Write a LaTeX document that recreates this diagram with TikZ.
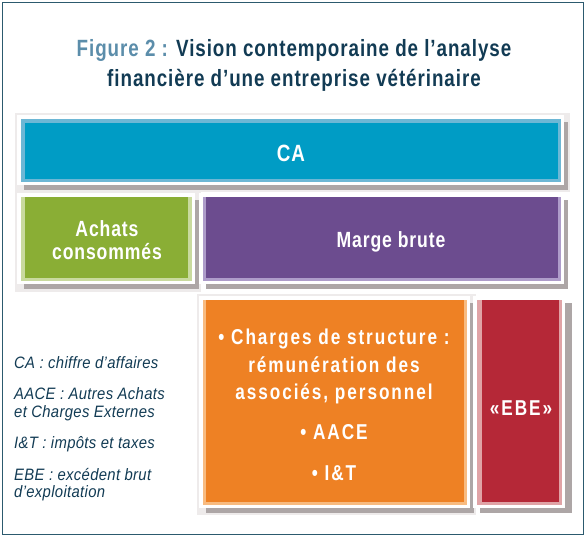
\documentclass[tikz,border=0pt]{standalone}
\usepackage{fontspec}
\setmainfont{Liberation Sans}
\newfontfamily\condb{Liberation Sans}[FakeStretch=0.8,LetterSpace=4]
\newfontfamily\condo{Liberation Sans}[FakeStretch=0.8,LetterSpace=9]
\newfontfamily\legi{Liberation Sans}[FakeStretch=0.9,LetterSpace=2]
\definecolor{framecol}{HTML}{2C5A6E}
\definecolor{figblue}{HTML}{5B8DAA}
\definecolor{navy}{HTML}{123B54}
\definecolor{shadowgrey}{HTML}{ADA6A6}
\definecolor{fuzz}{HTML}{EEEBEB}
\definecolor{cadark}{HTML}{009CC5}
\definecolor{calight}{HTML}{6DB7D5}
\definecolor{grdark}{HTML}{8AAE35}
\definecolor{grlight}{HTML}{C9DA9E}
\definecolor{pudark}{HTML}{6C4C8F}
\definecolor{pulight}{HTML}{AE9CCA}
\definecolor{ordark}{HTML}{EE8124}
\definecolor{orlight}{HTML}{F8BB80}
\definecolor{rddark}{HTML}{B52837}
\definecolor{rdlight}{HTML}{E0A3A6}
\tikzset{
  boxtxt/.style={inner sep=0pt, anchor=base, text=white, font=\condb\bfseries\fontsize{22}{26}\selectfont},
  ortxt/.style={inner sep=0pt, anchor=base, text=white, font=\condo\bfseries\fontsize{21.5}{25}\selectfont},
  legtxt/.style={inner sep=0pt, anchor=base west, text=navy, font=\legi\itshape\fontsize{16.5}{19}\selectfont},
  titletxt/.style={inner sep=0pt, anchor=base, text=navy, font=\condb\bfseries\fontsize{23.5}{28}\selectfont}
}
\begin{document}
\begin{tikzpicture}[x=1pt,y=-1pt]
\useasboundingbox (0,0) rectangle (588,539);
\fill[white] (0,0) rectangle (588,539);
\draw[framecol, line width=1.6pt] (2.5,2.5) rectangle (583.5,534.5);
% title
\node[titletxt] (t1) at (294,56) {\textcolor{figblue}{Figure 2 :} Vision contemporaine de l’analyse};
\node[titletxt] (t2) at (294,86) {financière d’une entreprise vétérinaire};
% CA
\fill[fuzz] (15,113) rectangle (570,192);
\fill[shadowgrey] (24,122) rectangle (568,190);
\fill[white] (17,115) rectangle (564,185);
\fill[calight] (21,119) rectangle (561,182);
\fill[cadark] (24.5,122.5) rectangle (557.5,178.5);
% Achats
\fill[fuzz] (15,191) rectangle (201,292);
\fill[shadowgrey] (24,200) rectangle (199,289);
\fill[white] (17,193) rectangle (195,284);
\fill[grlight] (21,197) rectangle (192,281);
\fill[grdark] (24.5,197) rectangle (187.5,277.5);
% Marge
\fill[shadowgrey] (206,200) rectangle (568,289);
\fill[white] (199,193) rectangle (564,284);
\fill[pulight] (203,197) rectangle (561,281);
\fill[pudark] (206,197) rectangle (557.5,277.5);
% Orange
\fill[fuzz] (197,294) rectangle (476,515);
\fill[shadowgrey] (206,303) rectangle (474,513);
\fill[white] (199,296) rectangle (470,508);
\fill[orlight] (203,300) rectangle (467,505);
\fill[ordark] (206,300) rectangle (463.5,501.5);
% Red
\fill[shadowgrey] (480,303) rectangle (572,513);
\fill[white] (473,296) rectangle (565,508);
\fill[rdlight] (477,300) rectangle (562,505);
\fill[rddark] (481.5,300) rectangle (558.5,501.5);
% box texts
\node[boxtxt, font=\condb\bfseries\fontsize{23.5}{28}\selectfont] (ca) at (291,161) {CA};
\node[boxtxt] (ach1) at (107,236) {Achats};
\node[boxtxt] (ach2) at (107,259) {consommés};
\node[boxtxt] (mb) at (391,247) {Marge brute};
\node[ortxt] (cs1) at (334,344) {• Charges de structure :};
\node[ortxt] (cs2) at (334,372) {rémunération des};
\node[ortxt] (cs3) at (334,399) {associés, personnel};
\node[ortxt] (aace) at (334,439) {• AACE};
\node[ortxt] (it) at (334,480) {• I\&T};
\node[ortxt] (ebe) at (521,415) {«EBE»};
% legend
\node[legtxt] (l1) at (14,368) {CA : chiffre d’affaires};
\node[legtxt] (l2) at (14,399) {AACE : Autres Achats};
\node[legtxt] (l3) at (14,417) {et Charges Externes};
\node[legtxt] (l4) at (14,448) {I\&T : impôts et taxes};
\node[legtxt] (l5) at (14,480) {EBE : excédent brut};
\node[legtxt] (l6) at (14,497) {d’exploitation};
\end{tikzpicture}
\end{document}
